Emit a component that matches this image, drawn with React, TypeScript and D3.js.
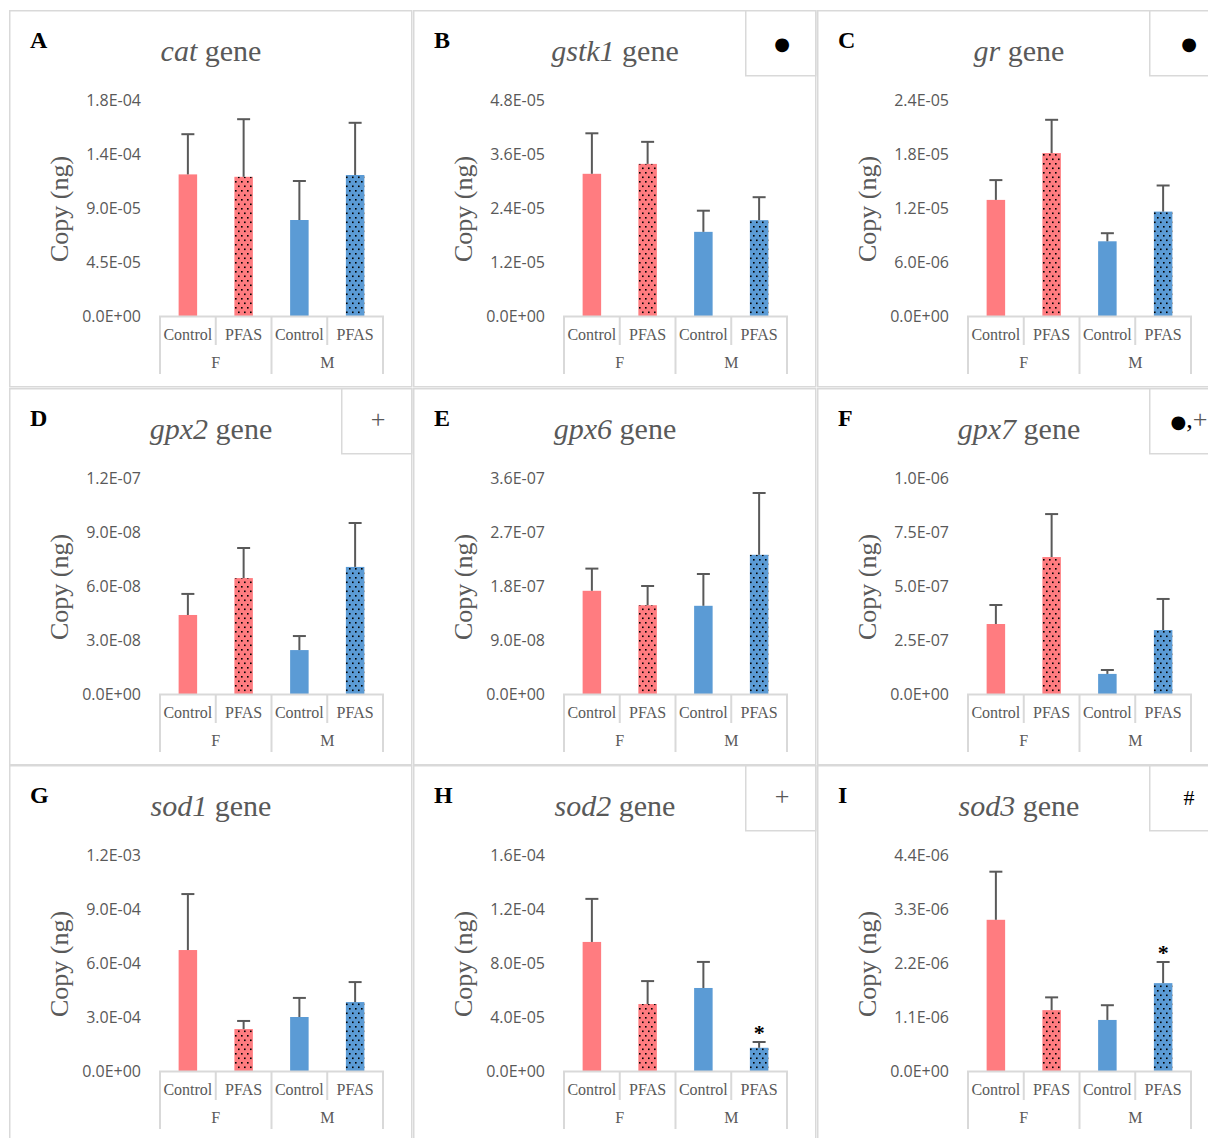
import * as d3 from "d3";

// nine qPCR panels, 3x3 grid; each value is mean copy number with upward SD bar
const genes = ["cat", "gstk1", "gr", "gpx2", "gpx6", "gpx7", "sod1", "sod2", "sod3"];
const letters = ["A", "B", "C", "D", "E", "F", "G", "H", "I"];
const categories = ["Control", "PFAS", "Control", "PFAS"];
const sexes = ["F", "M"];
const axisMax = [1.8e-4, 4.8e-5, 2.4e-5, 1.2e-7, 3.6e-7, 1.0e-6, 1.2e-3, 1.6e-4, 4.4e-6];
const means = [
  [1.18e-4, 1.16e-4, 0.8e-4, 1.175e-4],
  [3.16e-5, 3.38e-5, 1.87e-5, 2.13e-5],
  [1.29e-5, 1.81e-5, 0.83e-5, 1.16e-5],
  [4.39e-8, 6.44e-8, 2.44e-8, 7.06e-8],
  [1.72e-7, 1.48e-7, 1.47e-7, 2.32e-7],
  [3.24e-7, 6.34e-7, 0.93e-7, 2.96e-7],
  [6.72e-4, 2.33e-4, 3.0e-4, 3.83e-4],
  [9.56e-5, 4.96e-5, 6.15e-5, 1.72e-5],
  [3.08e-6, 1.24e-6, 1.04e-6, 1.79e-6],
];
const errors = [
  [0.335e-4, 0.48e-4, 0.325e-4, 0.435e-4],
  [0.9e-5, 0.49e-5, 0.47e-5, 0.51e-5],
  [0.22e-5, 0.37e-5, 0.09e-5, 0.29e-5],
  [1.17e-8, 1.67e-8, 0.78e-8, 2.44e-8],
  [0.37e-7, 0.32e-7, 0.53e-7, 1.03e-7],
  [0.88e-7, 1.99e-7, 0.18e-7, 1.44e-7],
  [3.11e-4, 0.45e-4, 1.06e-4, 1.11e-4],
  [3.19e-5, 1.7e-5, 1.93e-5, 0.43e-5],
  [0.98e-6, 0.26e-6, 0.3e-6, 0.43e-6],
];
const marks = ["", "●", "●", "+", "", "●,+", "", "+", "#"];
const stars = [[], [], [], [], [], [], [], [3], [3]];

const RED = "#ff7c80";
const BLUE = "#5b9bd5";
const GREY = "#595959";
const RULE = "#d9d9d9";
const SERIF = "'Liberation Serif', 'Times New Roman', serif";
const colX = [0, 404, 808];
const rowY = [0, 378, 755];

const fmt = (v: number) => {
  if (v === 0) return "0.0E+00";
  let e = Math.floor(Math.log10(v) + 1e-9);
  let m = Math.round((v / Math.pow(10, e)) * 10 + 1e-6) / 10;
  if (m >= 10) { m /= 10; e += 1; }
  return m.toFixed(1) + "E" + (e < 0 ? "-" : "+") + String(Math.abs(e)).padStart(2, "0");
};

function Panel({ i }: { i: number }) {
  const col = i % 3, row = Math.floor(i / 3);
  const y = d3.scaleLinear().domain([0, axisMax[i]]).range([316, 100]);
  const x = d3.scaleBand<number>().domain(d3.range(4)).range([160, 383]).padding(0);
  const step = x.step();
  const bw = 18.5;
  const ticks = d3.range(5).map((k) => (axisMax[i] * k) / 4);
  const mark = marks[i];
  return (
    <g transform={`translate(${colX[col]},${rowY[row]})`}>
      <rect x={9.75} y={10.75} width={402} height={376} fill="none" stroke={RULE} strokeWidth={1.5} />
      <text x={30} y={48} fontFamily={SERIF} fontWeight="bold" fontSize={24} fill="#000">{letters[i]}</text>
      <text x={211} y={61} textAnchor="middle" fontFamily={SERIF} fontSize={30} fill={GREY}>
        <tspan fontStyle="italic">{genes[i]}</tspan> gene
      </text>
      {mark && (
        <g>
          <rect x={341.75} y={10.75} width={col === 2 ? 100 : 70} height={65} fill="#fff" stroke={RULE} strokeWidth={1.5} />
          <text x={col === 2 ? 381 : 378} y={50} textAnchor="middle" fontFamily={SERIF} fontSize={26} fill="#000">
            {mark.split("").map((ch, k) =>
              ch === "●"
                ? <tspan key={k} fontFamily="'DejaVu Sans', sans-serif" fontSize={18}>{ch}</tspan>
                : <tspan key={k} fill={ch === "+" ? GREY : "#000"} fontSize={ch === "#" ? 22 : 26}>{ch}</tspan>
            )}
          </text>
        </g>
      )}
      {ticks.map((t) => (
        <text key={t} x={141} y={y(t)} dy="0.35em" textAnchor="end" fontFamily="'Open Sans', sans-serif" fontSize={16} fill={GREY}>{fmt(t)}</text>
      ))}
      <text transform="translate(68,209) rotate(-90)" textAnchor="middle" fontFamily={SERIF} fontSize={26} fill={GREY}>Copy (ng)</text>
      <defs>
        {[RED, BLUE].map((c, k) => (
          <pattern key={c} id={`dots${i}_${k}`} width={6} height={9} patternUnits="userSpaceOnUse">
            <rect width={6} height={9} fill={c} />
            <rect x={1} y={1} width={1.6} height={1.6} fill="#000" />
            <rect x={4} y={5.5} width={1.6} height={1.6} fill="#000" />
          </pattern>
        ))}
      </defs>
      {means[i].map((v, k) => {
        const cx = (x(k) ?? 0) + step / 2;
        const color = k < 2 ? RED : BLUE;
        const fill = k % 2 === 1 ? `url(#dots${i}_${k < 2 ? 0 : 1})` : color;
        const top = y(v + errors[i][k]);
        return (
          <g key={k}>
            <rect x={cx - bw / 2} y={y(v)} width={bw} height={316 - y(v)} fill={fill} />
            <line x1={cx} x2={cx} y1={y(v)} y2={top} stroke={GREY} strokeWidth={2} />
            <line x1={cx - 6.5} x2={cx + 6.5} y1={top} y2={top} stroke={GREY} strokeWidth={2} />
            {stars[i].includes(k) && (
              <text x={cx} y={top - 2} textAnchor="middle" fontFamily={SERIF} fontWeight="bold" fontSize={22} fill="#000">*</text>
            )}
          </g>
        );
      })}
      <line x1={159} x2={384} y1={316.5} y2={316.5} stroke={RULE} strokeWidth={2} />
      {d3.range(5).map((k) => {
        const bx = 160 + k * step;
        return <line key={k} x1={bx} x2={bx} y1={316} y2={k % 2 === 0 ? 374 : 345} stroke={RULE} strokeWidth={2} />;
      })}
      {categories.map((c, k) => (
        <text key={k} x={(x(k) ?? 0) + step / 2} y={340} textAnchor="middle" fontFamily={SERIF} fontSize={16} fill={GREY}>{c}</text>
      ))}
      {sexes.map((s, k) => (
        <text key={s} x={160 + step * (2 * k + 1)} y={368} textAnchor="middle" fontFamily={SERIF} fontSize={16} fill={GREY}>{s}</text>
      ))}
    </g>
  );
}

export default function App() {
  return (
    <svg width={1208} height={1138} style={{ position: "absolute", left: 0, top: 0, display: "block", background: "#fff" }}>
      {genes.map((_, i) => <Panel key={i} i={i} />)}
    </svg>
  );
}
